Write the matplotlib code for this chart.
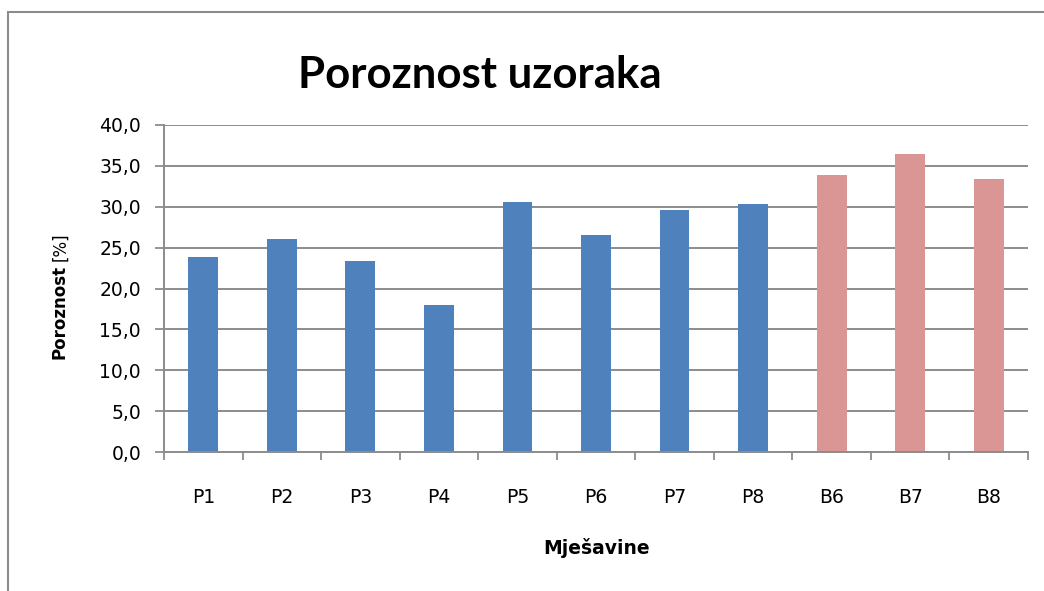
import numpy as np
import matplotlib.pyplot as plt
from matplotlib.patches import Rectangle
from matplotlib.ticker import FuncFormatter, FixedLocator

# values
mjesavine = ['P1', 'P2', 'P3', 'P4', 'P5', 'P6', 'P7', 'P8', 'B6', 'B7', 'B8']
poroznost = [23.9, 26.1, 23.4, 18.0, 30.6, 26.6, 29.6, 30.3, 33.9, 36.4, 33.4]
grupa = ['P'] * 8 + ['B'] * 3
boje = {'P': '#4F81BD', 'B': '#D99694'}

plt.rcParams['font.family'] = ['DejaVu Sans']

fig = plt.figure(figsize=(10.44, 5.91), dpi=100)
ax = fig.add_axes([164 / 1044, 1 - 452 / 591, (1028 - 164) / 1044, (452 - 125) / 591])

x = np.arange(len(mjesavine))
ax.bar(x, poroznost, width=0.38, color=[boje[g] for g in grupa], zorder=3)

ax.set_xlim(-0.5, len(mjesavine) - 0.5)
ax.set_ylim(0, 40)
ax.set_yticks(np.arange(0, 40.1, 5))
ax.yaxis.set_major_formatter(FuncFormatter(lambda v, p: f'{v:.1f}'.replace('.', ',')))
ax.grid(axis='y', color='#8c8c8c', linewidth=1.4, zorder=0)

# boundary ticks without labels, category labels on minor ticks
ax.xaxis.set_major_locator(FixedLocator(np.arange(-0.5, len(mjesavine), 1)))
ax.xaxis.set_minor_locator(FixedLocator(x))
ax.set_xticklabels([])
ax.set_xticklabels(mjesavine, minor=True)
ax.tick_params(axis='x', which='major', length=6, color='#8c8c8c', width=1.3, direction='out')
ax.tick_params(axis='x', which='minor', length=0, pad=26, labelsize=13.5)
ax.tick_params(axis='y', length=6.5, color='#8c8c8c', width=1.3, direction='out', labelsize=13.5, pad=10)

for s in ['top', 'right']:
    ax.spines[s].set_visible(False)
for s in ['left', 'bottom']:
    ax.spines[s].set_color('#8c8c8c')
    ax.spines[s].set_linewidth(1.4)
ax.spines['bottom'].set_zorder(4)

fig.text(480 / 1044, 1 - 75 / 591, 'Poroznost uzoraka', ha='center', va='center',
         fontsize=31.5, fontweight='bold', family=['Lato', 'DejaVu Sans'])
fig.text(597 / 1044, 1 - 548 / 591, 'Mješavine', ha='center', va='center',
         fontsize=13.5, fontweight='bold')
fig.text(60 / 1044, 1 - 312 / 591, 'Poroznost', ha='center', va='center', rotation=90,
         fontsize=12, fontweight='bold')
fig.text(60 / 1044, 1 - 247 / 591, '[%]', ha='center', va='center', rotation=90,
         fontsize=12)

# outer chart border
fig.patches.append(Rectangle((8 / 1044, -0.1), 1.2, 1 - 12 / 591 + 0.1,
                             transform=fig.transFigure, fill=False,
                             edgecolor='#8c8c8c', linewidth=1.5))

fig.savefig('out.png', dpi=100)
